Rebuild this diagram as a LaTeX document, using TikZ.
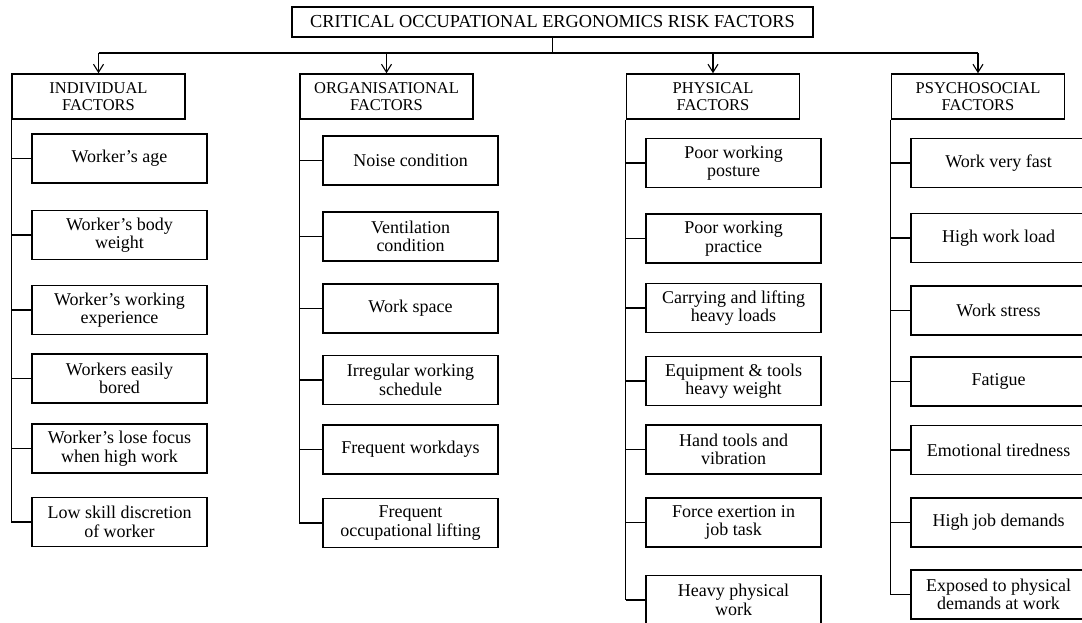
\documentclass[tikz,border=0pt]{standalone}
\usepackage{fontspec}
\setmainfont{Liberation Serif}
\usetikzlibrary{arrows.meta}
\begin{document}
\begin{tikzpicture}[x=1pt,y=-1pt,
  boxbase/.style={draw, line width=1.5pt, align=center, inner sep=0pt},
  titlebox/.style={boxbase, minimum width=521pt, minimum height=30pt, font=\fontsize{18.3}{20}\selectfont},
  catbox/.style={boxbase, minimum width=173pt, minimum height=45pt, font=\fontsize{16.5}{17}\selectfont},
  itembox/.style={boxbase, minimum width=175pt, minimum height=49pt, font=\fontsize{18}{18.5}\selectfont},
  link/.style={line width=1.2pt},
  spine/.style={line width=1.4pt},
  downarrow/.style={line width=1.2pt, -{Straight Barb[length=8pt,width=10pt,line width=1.1pt]}}
]
\useasboundingbox (0,0) rectangle (1082,623);
\clip (0,0) rectangle (1082,623);

% title
\node[titlebox] (title) at (552.5,22) {CRITICAL OCCUPATIONAL ERGONOMICS RISK FACTORS};

% categories
\node[catbox] (ind) at (98.5,96.5) {INDIVIDUAL\\FACTORS};
\node[catbox] (org) at (386.5,96.5) {ORGANISATIONAL\\FACTORS};
\node[catbox] (phy) at (713,96.5) {PHYSICAL\\FACTORS};
\node[catbox] (psy) at (978,96.5) {PSYCHOSOCIAL\\FACTORS};

% bus
\coordinate (bus) at (0,53);
\draw[link] (title.south) -- (title.south |- bus);
\draw[link] (ind.north |- bus) -- (psy.north |- bus);
\foreach \c in {ind,org,phy,psy}
  \draw[downarrow] (\c.north |- bus) -- (\c.north);

% individual items
\node[itembox] (i1) at (119.5,158.5) {Worker’s age};
\node[itembox] (i2) at (119.5,235) {Worker’s body\\weight};
\node[itembox] (i3) at (119.5,310) {Worker’s working\\experience};
\node[itembox] (i4) at (119.5,378.5) {Workers easily\\bored};
\node[itembox] (i5) at (119.5,448.5) {Worker’s lose focus\\when high work};
\node[itembox] (i6) at (119.5,522) {Low skill discretion\\of worker};

% organisational items
\node[itembox] (o1) at (410.5,160.5) {Noise condition};
\node[itembox] (o2) at (410.5,236.5) {Ventilation\\condition};
\node[itembox] (o3) at (410.5,308.5) {Work space};
\node[itembox] (o4) at (410.5,380) {Irregular working\\schedule};
\node[itembox] (o5) at (410.5,449.5) {Frequent workdays};
\node[itembox] (o6) at (410.5,523) {Frequent\\occupational lifting};

% physical items
\node[itembox] (p1) at (733.5,163) {Poor working\\posture};
\node[itembox] (p2) at (733.5,238.5) {Poor working\\practice};
\node[itembox] (p3) at (733.5,308) {Carrying and lifting\\heavy loads};
\node[itembox] (p4) at (733.5,381) {Equipment \& tools\\heavy weight};
\node[itembox] (p5) at (733.5,449.5) {Hand tools and\\vibration};
\node[itembox] (p6) at (733.5,522.5) {Force exertion in\\job task};
\node[itembox] (p7) at (733.5,600) {Heavy physical\\work};

% psychosocial items
\node[itembox] (s1) at (998.5,163) {Work very fast};
\node[itembox] (s2) at (998.5,238) {High work load};
\node[itembox] (s3) at (998.5,310.5) {Work stress};
\node[itembox] (s4) at (998.5,381.5) {Fatigue};
\node[itembox] (s5) at (998.5,450) {Emotional tiredness};
\node[itembox] (s6) at (998.5,522.5) {High job demands};
\node[itembox] (s7) at (998.5,594.5) {Exposed to physical\\demands at work};

% spines and branches
\draw[spine] (ind.south west) -- (ind.south west |- i6.west);
\foreach \n in {i1,i2,i3,i4,i5,i6}
  \draw[link] (ind.south west |- \n.west) -- (\n.west);

\draw[spine] (org.south west) -- (org.south west |- o6.west);
\foreach \n in {o1,o2,o3,o4,o5,o6}
  \draw[link] (org.south west |- \n.west) -- (\n.west);

\draw[spine] (phy.south west) -- (phy.south west |- p7.west);
\foreach \n in {p1,p2,p3,p4,p5,p6,p7}
  \draw[link] (phy.south west |- \n.west) -- (\n.west);

\draw[spine] (psy.south west) -- (psy.south west |- s7.west);
\foreach \n in {s1,s2,s3,s4,s5,s6,s7}
  \draw[link] (psy.south west |- \n.west) -- (\n.west);
\end{tikzpicture}
\end{document}
